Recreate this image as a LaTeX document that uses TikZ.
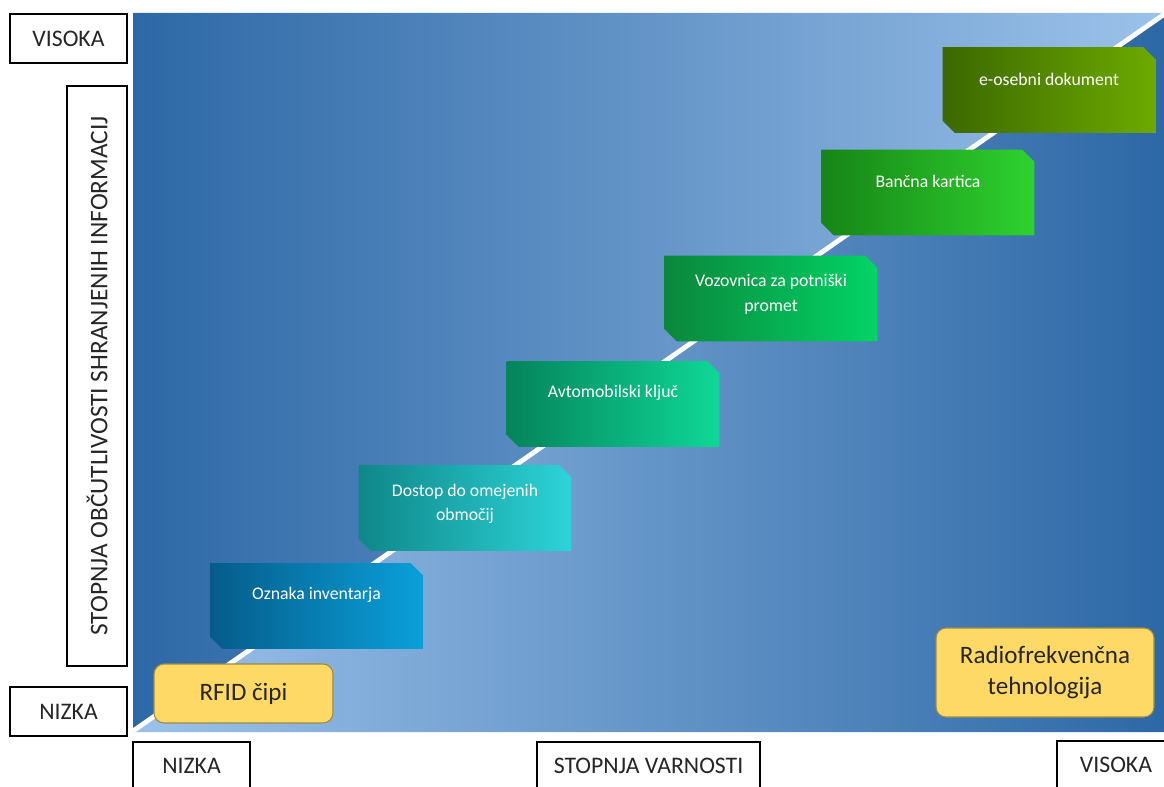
\documentclass[tikz,border=0pt]{standalone}
\usepackage{fontspec}
\setmainfont{Carlito}
\definecolor{bgdark}{HTML}{2D68A6}
\definecolor{bglight}{HTML}{9CC2EA}
\definecolor{yfill}{HTML}{FFD966}
\definecolor{yline}{HTML}{9C8A45}
\definecolor{labtext}{HTML}{262626}
\definecolor{aL}{HTML}{055C8A}\definecolor{aR}{HTML}{0AA0DA}
\definecolor{bL}{HTML}{0F8789}\definecolor{bR}{HTML}{2CD4D8}
\definecolor{cL}{HTML}{05835A}\definecolor{cR}{HTML}{0ED896}
\definecolor{dL}{HTML}{0A873B}\definecolor{dR}{HTML}{02D466}
\definecolor{eL}{HTML}{178517}\definecolor{eR}{HTML}{2ED22E}
\definecolor{fL}{HTML}{3C6800}\definecolor{fR}{HTML}{6CAA00}
\newcommand{\mycard}[7]{%
  \node[cardbox] (#1) at (#2,#3) {};
  \shade[left color=#4, right color=#5]
    (#1.north west) -- ([xshift=-9pt]#1.north east) -- ([yshift=-9pt]#1.north east)
    -- (#1.south east) -- ([xshift=9pt]#1.south west) -- ([yshift=9pt]#1.south west) -- cycle;
  \node[cardtext] (#1t) at ([yshift=#6]#1.north) {#7};
}
\begin{document}
\begin{tikzpicture}[x=0.75pt,y=-0.75pt,
  cardbox/.style={rectangle, draw=none, inner sep=0pt, minimum width=159pt, minimum height=63.75pt},
  cardtext/.style={text=white, align=center, font=\fontsize{13.3}{18.5}\selectfont, inner sep=0pt},
  ybox/.style={rectangle, rounded corners=7.5pt, fill=yfill, draw=yline, line width=0.8pt,
     text=labtext, align=center, font=\fontsize{18.8}{23}\selectfont},
  labbox/.style={rectangle, draw=black, line width=1.1pt, fill=white, text=labtext,
     inner sep=0pt, font=\fontsize{17.8}{21}\selectfont}
]
\useasboundingbox (0,0) rectangle (1164,787);
% plot background
\coordinate (d1) at (133,731);
\coordinate (d2) at (1166,13);
\begin{scope}
  \clip (133,13) rectangle (1164,732);
  \shade[left color=bgdark, right color=bglight] (133,13) -- (1164,13) -- (1164,14.5) -- (133,731) -- cycle;
  \shade[left color=bglight, right color=bgdark] (133,731) -- (1164,14.5) -- (1164,732) -- (133,732) -- cycle;
  \draw[white, line width=3.6pt] (d1) -- (d2);
\end{scope}
% cards
\mycard{c1}{316.5}{606}{aL}{aR}{-24pt}{Oznaka inventarja}
\mycard{c2}{465}{508}{bL}{bR}{-29pt}{Dostop do omejenih\\območij}
\mycard{c3}{613}{404}{cL}{cR}{-24pt}{Avtomobilski ključ}
\mycard{c4}{771}{298.5}{dL}{dR}{-29pt}{Vozovnica za potniški\\promet}
\mycard{c5}{928}{192.5}{eL}{eR}{-24pt}{Bančna kartica}
\mycard{c6}{1049}{90}{fL}{fR}{-24pt}{e-osebni dokument}
% yellow boxes
\node[ybox, minimum width=134.25pt, minimum height=44.25pt] (rfid) at (243.5,693.5) {RFID čipi};
\node[ybox, minimum width=163.5pt, minimum height=66.75pt] (radio) at (1045,672.5) {Radiofrekvenčna\\tehnologija};
% axis labels
\node[labbox, minimum width=87.75pt, minimum height=36.75pt] (lv) at (68.5,38.5) {VISOKA};
\node[labbox, minimum width=87.75pt, minimum height=36.75pt] (ln) at (68.5,711.5) {NIZKA};
\node[labbox, rotate=90, minimum width=435pt, minimum height=45pt, font=\fontsize{19}{22}\selectfont] (yax) at (97,376) {STOPNJA OBČUTLIVOSTI SHRANJENIH INFORMACIJ};
\node[labbox, minimum width=87.75pt, minimum height=36pt] (bn) at (191.5,766) {NIZKA};
\node[labbox, minimum width=167.25pt, minimum height=36pt] (bs) at (648.5,766) {STOPNJA VARNOSTI};
\node[labbox, minimum width=88.5pt, minimum height=36pt] (bv) at (1116,765) {VISOKA};
\end{tikzpicture}
\end{document}
